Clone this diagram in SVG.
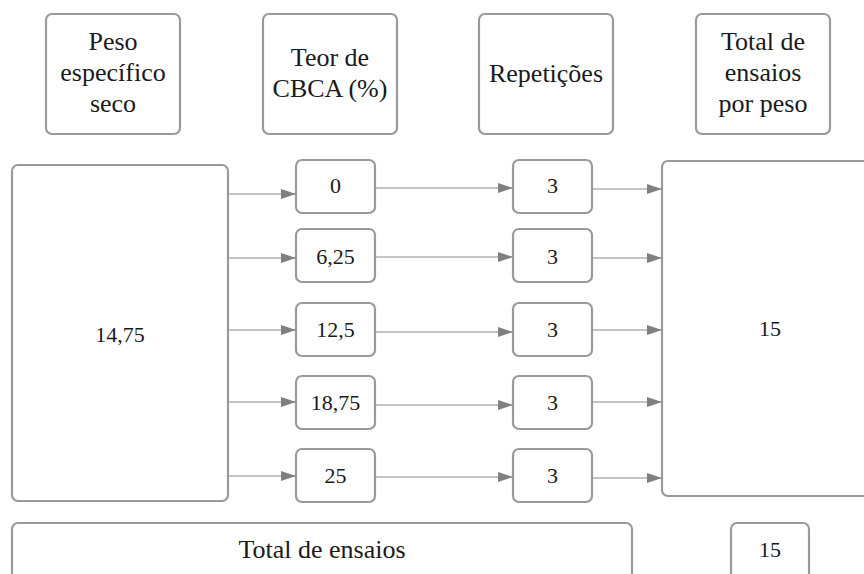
<svg xmlns="http://www.w3.org/2000/svg" width="864" height="574" viewBox="0 0 864 574">
<style>
.box{fill:#fff;stroke:#9a9a9a;stroke-width:2.2}
.t{font-family:"Liberation Serif","DejaVu Serif",serif;fill:#1a1a1a;text-anchor:middle}
.h{font-size:26px}
.n{font-size:22px}
.c{stroke:#8a8a8a;stroke-width:1.2;fill:none}
</style>
<defs>
<marker id="ah" viewBox="0 0 15 10" refX="15" refY="5" markerWidth="15" markerHeight="10" markerUnits="userSpaceOnUse" orient="auto">
<path d="M0,0 L15,5 L0,10 Z" fill="#808080"/>
</marker>
</defs>
<rect width="864" height="574" fill="#fff"/>
<g id="h1"><rect class="box" x="46" y="14" width="134" height="120" rx="6"/><text class="t h" x="113" y="50">Peso</text><text class="t h" x="113" y="81">específico</text><text class="t h" x="113" y="112">seco</text></g>
<g id="h2"><rect class="box" x="263" y="14" width="134" height="120" rx="6"/><text class="t h" x="330" y="66">Teor de</text><text class="t h" x="330" y="97">CBCA (%)</text></g>
<g id="h3"><rect class="box" x="479" y="14" width="134" height="120" rx="6"/><text class="t h" x="546" y="82">Repetições</text></g>
<g id="h4"><rect class="box" x="696" y="14" width="134" height="120" rx="6"/><text class="t h" x="763" y="50">Total de</text><text class="t h" x="763" y="81">ensaios</text><text class="t h" x="763" y="112">por peso</text></g>
<g id="peso"><rect class="box" x="12" y="165" width="216" height="336" rx="6"/><text class="t n" x="120" y="342">14,75</text></g>
<g id="p0"><rect class="box" x="296" y="160" width="79" height="53" rx="6"/><text class="t n" x="335.5" y="193">0</text></g>
<g id="p1"><rect class="box" x="296" y="229" width="79" height="53" rx="6"/><text class="t n" x="335.5" y="264">6,25</text></g>
<g id="p2"><rect class="box" x="296" y="303" width="79" height="53" rx="6"/><text class="t n" x="335.5" y="337">12,5</text></g>
<g id="p3"><rect class="box" x="296" y="376" width="79" height="53" rx="6"/><text class="t n" x="335.5" y="410">18,75</text></g>
<g id="p4"><rect class="box" x="296" y="449" width="79" height="53" rx="6"/><text class="t n" x="335.5" y="483">25</text></g>
<g id="r0"><rect class="box" x="513" y="160" width="79" height="53" rx="6"/><text class="t n" x="552.5" y="193">3</text></g>
<g id="r1"><rect class="box" x="513" y="229" width="79" height="53" rx="6"/><text class="t n" x="552.5" y="264">3</text></g>
<g id="r2"><rect class="box" x="513" y="303" width="79" height="53" rx="6"/><text class="t n" x="552.5" y="337">3</text></g>
<g id="r3"><rect class="box" x="513" y="376" width="79" height="53" rx="6"/><text class="t n" x="552.5" y="410">3</text></g>
<g id="r4"><rect class="box" x="513" y="449" width="79" height="53" rx="6"/><text class="t n" x="552.5" y="483">3</text></g>
<g id="total"><rect class="box" x="662" y="161" width="216" height="335" rx="6"/><text class="t n" x="770" y="336">15</text></g>
<g id="totalEnsaios"><rect class="box" x="12" y="523" width="620" height="70" rx="6"/><text class="t h" x="322" y="558">Total de ensaios</text></g>
<g id="totalVal"><rect class="box" x="731" y="523" width="78" height="70" rx="6"/><text class="t n" x="770" y="557">15</text></g>
<g id="connectors">
<line class="c" x1="228" y1="194" x2="296" y2="194" marker-end="url(#ah)"/>
<line class="c" x1="228" y1="258" x2="296" y2="258" marker-end="url(#ah)"/>
<line class="c" x1="228" y1="330" x2="296" y2="330" marker-end="url(#ah)"/>
<line class="c" x1="228" y1="402" x2="296" y2="402" marker-end="url(#ah)"/>
<line class="c" x1="228" y1="476" x2="296" y2="476" marker-end="url(#ah)"/>
<line class="c" x1="375" y1="188" x2="513" y2="188" marker-end="url(#ah)"/>
<line class="c" x1="375" y1="257" x2="513" y2="257" marker-end="url(#ah)"/>
<line class="c" x1="375" y1="332" x2="513" y2="332" marker-end="url(#ah)"/>
<line class="c" x1="375" y1="405" x2="513" y2="405" marker-end="url(#ah)"/>
<line class="c" x1="375" y1="477" x2="513" y2="477" marker-end="url(#ah)"/>
<line class="c" x1="592" y1="189" x2="662" y2="189" marker-end="url(#ah)"/>
<line class="c" x1="592" y1="258" x2="662" y2="258" marker-end="url(#ah)"/>
<line class="c" x1="592" y1="330" x2="662" y2="330" marker-end="url(#ah)"/>
<line class="c" x1="592" y1="402" x2="662" y2="402" marker-end="url(#ah)"/>
<line class="c" x1="592" y1="478" x2="662" y2="478" marker-end="url(#ah)"/>
</g>
</svg>
